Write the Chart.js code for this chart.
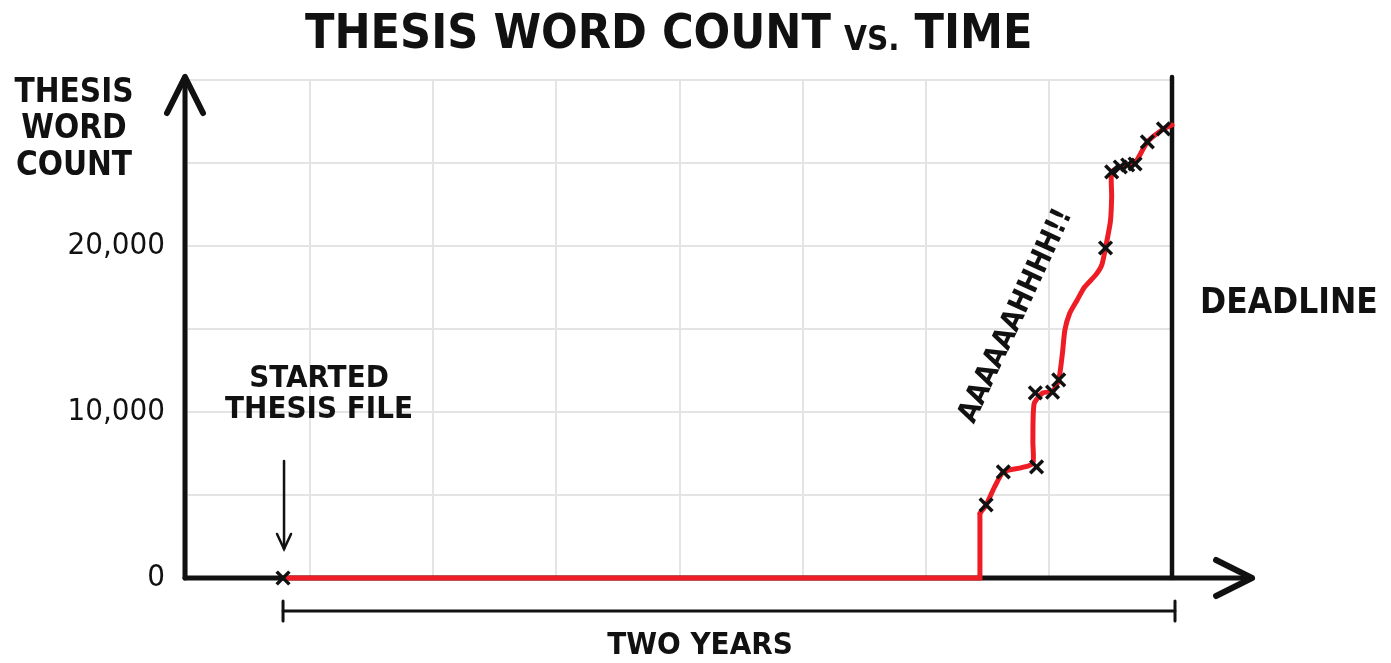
<!DOCTYPE html>
<html>
<head>
<meta charset="utf-8">
<script src="https://cdn.jsdelivr.net/npm/chart.js@4.4.1/dist/chart.umd.min.js"></script>
<style>
  html, body { margin: 0; padding: 0; background: #ffffff; }
  #wrap { width: 1391px; height: 663px; position: relative; }
</style>
</head>
<body>
<div id="wrap"><canvas id="c" width="1391" height="663"></canvas></div>
<script>
// ---- data (x: time in grid units, 8 = deadline; y: words) ----
const flatX = [0.78, 6.44, 6.44];
const flatY = [0, 0, 3900];

const riseX = [6.44, 6.49, 6.56, 6.63, 6.78, 6.87, 6.87, 6.88, 6.95, 7.03, 7.08, 7.11, 7.13, 7.17, 7.23, 7.29, 7.38, 7.43, 7.46, 7.50, 7.51, 7.51, 7.58, 7.64, 7.70, 7.80, 7.93, 8.00];
const riseY = [3900, 4400, 5500, 6390, 6650, 6900, 8200, 10500, 11150, 11250, 11930, 13530, 14940, 15960, 16750, 17530, 18250, 18860, 19880, 21500, 23000, 24460, 24760, 24880, 25000, 26270, 27050, 27290];

const markX = [0.78, 6.49, 6.63, 6.90, 6.89, 7.03, 7.08, 7.46, 7.51, 7.58, 7.64, 7.70, 7.80, 7.93];
const markY = [0, 4400, 6390, 6690, 11150, 11200, 11930, 19880, 24460, 24760, 24880, 24940, 26270, 27050];

const yTickLabels = {0: '0', 10000: '10,000', 20000: '20,000'};
const startX = 0.78, deadlineX = 8;

const FONT = '"Liberation Sans Narrow", "DejaVu Sans Condensed", "DejaVu Sans", sans-serif';
const INK = '#111111';

function pts(xs, ys) { return xs.map((x, i) => ({x: x, y: ys[i]})); }

function arrowHead(ctx, tx, ty, dx, dy, len, wid) {
  const px = -dy, py = dx;
  ctx.beginPath();
  ctx.moveTo(tx - dx * len + px * wid, ty - dy * len + py * wid);
  ctx.lineTo(tx, ty);
  ctx.lineTo(tx - dx * len - px * wid, ty - dy * len - py * wid);
  ctx.stroke();
}

const decor = {
  id: 'decor',
  beforeDatasetsDraw(chart) {
    const ctx = chart.ctx, xs = chart.scales.x, ys = chart.scales.y;
    const x0 = xs.getPixelForValue(0), y0 = ys.getPixelForValue(0);
    const yTop = ys.getPixelForValue(30000) - 3;
    const xEnd = xs.getPixelForValue(8.65);
    ctx.save();
    ctx.strokeStyle = INK; ctx.lineCap = 'round'; ctx.lineJoin = 'round';
    ctx.lineWidth = 5;
    ctx.beginPath(); ctx.moveTo(x0 - 2, y0); ctx.lineTo(xEnd, y0); ctx.stroke();
    ctx.beginPath(); ctx.moveTo(x0 - 2, y0); ctx.lineTo(x0 - 2, yTop); ctx.stroke();
    ctx.lineWidth = 6;
    arrowHead(ctx, xEnd, y0, 1, 0, 36, 18);
    arrowHead(ctx, x0 - 2, yTop, 0, -1, 36, 18);
    const xd = xs.getPixelForValue(deadlineX);
    ctx.lineWidth = 4.5;
    ctx.beginPath(); ctx.moveTo(xd, yTop); ctx.lineTo(xd, y0); ctx.stroke();
    ctx.restore();
  },
  afterDatasetsDraw(chart) {
    const ctx = chart.ctx, xs = chart.scales.x, ys = chart.scales.y;
    const xs0 = xs.getPixelForValue(startX), xd = xs.getPixelForValue(deadlineX);
    ctx.save();
    ctx.fillStyle = INK; ctx.strokeStyle = INK; ctx.lineCap = 'round';
    ctx.textAlign = 'center'; ctx.textBaseline = 'middle';

    // Title
    ctx.font = 'bold 48px ' + FONT;
    ctx.textAlign = 'left';
    const t1 = 'THESIS WORD COUNT';
    ctx.fillText(t1, 305, 36);
    const w1 = ctx.measureText(t1).width;
    ctx.font = 'bold 33px ' + FONT;
    ctx.fillText('VS.', 305 + w1 + 13, 41);
    const w2 = ctx.measureText('VS.').width;
    ctx.font = 'bold 48px ' + FONT;
    ctx.fillText('TIME', 305 + w1 + 13 + w2 + 15, 36);

    // Y axis title
    ctx.textAlign = 'center';
    ctx.font = 'bold 33px ' + FONT;
    ctx.fillText('THESIS', 74, 93);
    ctx.fillText('WORD', 74, 129);
    ctx.fillText('COUNT', 74, 166);

    // Started thesis file
    ctx.font = 'bold 31px ' + FONT;
    ctx.fillText('STARTED', xs0 + 36, 379);
    ctx.fillText('THESIS FILE', xs0 + 36, 410);
    ctx.lineWidth = 2.5;
    ctx.beginPath(); ctx.moveTo(xs0 + 1, 461); ctx.lineTo(xs0 + 1, 549); ctx.stroke();
    arrowHead(ctx, xs0 + 1, 549, 0, 1, 15, 7);

    // AAAAAAHHHH!!
    ctx.save();
    ctx.translate(1016, 316);
    ctx.rotate(-65 * Math.PI / 180);
    ctx.font = 'bold 29px ' + FONT;
    ctx.fillText('AAAAAAHHHH!!', 0, 0);
    ctx.restore();

    // Deadline
    ctx.font = 'bold 35px ' + FONT;
    ctx.textAlign = 'left';
    ctx.fillText('DEADLINE', xd + 28, 304);

    // Two years bracket
    const yb = 611;
    ctx.lineWidth = 2.8;
    ctx.beginPath(); ctx.moveTo(xs0, yb); ctx.lineTo(xd + 3, yb); ctx.stroke();
    ctx.lineWidth = 3;
    ctx.beginPath(); ctx.moveTo(xs0, yb - 10); ctx.lineTo(xs0, yb + 10); ctx.stroke();
    ctx.beginPath(); ctx.moveTo(xd + 3, yb - 10); ctx.lineTo(xd + 3, yb + 10); ctx.stroke();
    ctx.textAlign = 'center';
    ctx.font = 'bold 31px ' + FONT;
    ctx.fillText('TWO YEARS', 700, 646);
    ctx.restore();
  }
};

const chart = new Chart(document.getElementById('c'), {
  type: 'scatter',
  data: {
    datasets: [
      {
        label: 'flat', data: pts(flatX, flatY), showLine: true, clip: false,
        borderColor: '#ee1c25', borderWidth: 5, pointRadius: 0, tension: 0, order: 3
      },
      {
        label: 'rise', data: pts(riseX, riseY), showLine: true, clip: false,
        borderColor: '#ee1c25', borderWidth: 5, pointRadius: 0, tension: 0.2, order: 2,
        borderCapStyle: 'round', borderJoinStyle: 'round'
      },
      {
        label: 'saves', data: pts(markX, markY), showLine: false, clip: false,
        pointStyle: 'crossRot', pointRadius: 9, pointBorderWidth: 3.5,
        borderColor: INK, backgroundColor: INK, order: 1
      }
    ]
  },
  options: {
    responsive: false, animation: false,
    layout: { padding: { left: 0, right: 219, top: 80, bottom: 85 } },
    plugins: { legend: { display: false }, tooltip: { enabled: false }, title: { display: false } },
    scales: {
      x: {
        type: 'linear', min: 0, max: 8,
        ticks: { display: false, stepSize: 1 },
        grid: { color: '#e4e4e4', lineWidth: 2, drawTicks: false },
        border: { display: false },
        afterFit(s) { s.height = 0; }
      },
      y: {
        min: 0, max: 30000,
        ticks: {
          stepSize: 5000, padding: 22, color: INK,
          font: { family: FONT, size: 31 },
          callback: (v) => (yTickLabels[v] !== undefined ? yTickLabels[v] : '')
        },
        grid: { color: '#e4e4e4', lineWidth: 2, drawTicks: false },
        border: { display: false },
        afterFit(s) { s.width = 187; }
      }
    }
  },
  plugins: [decor]
});
</script>
</body>
</html>
